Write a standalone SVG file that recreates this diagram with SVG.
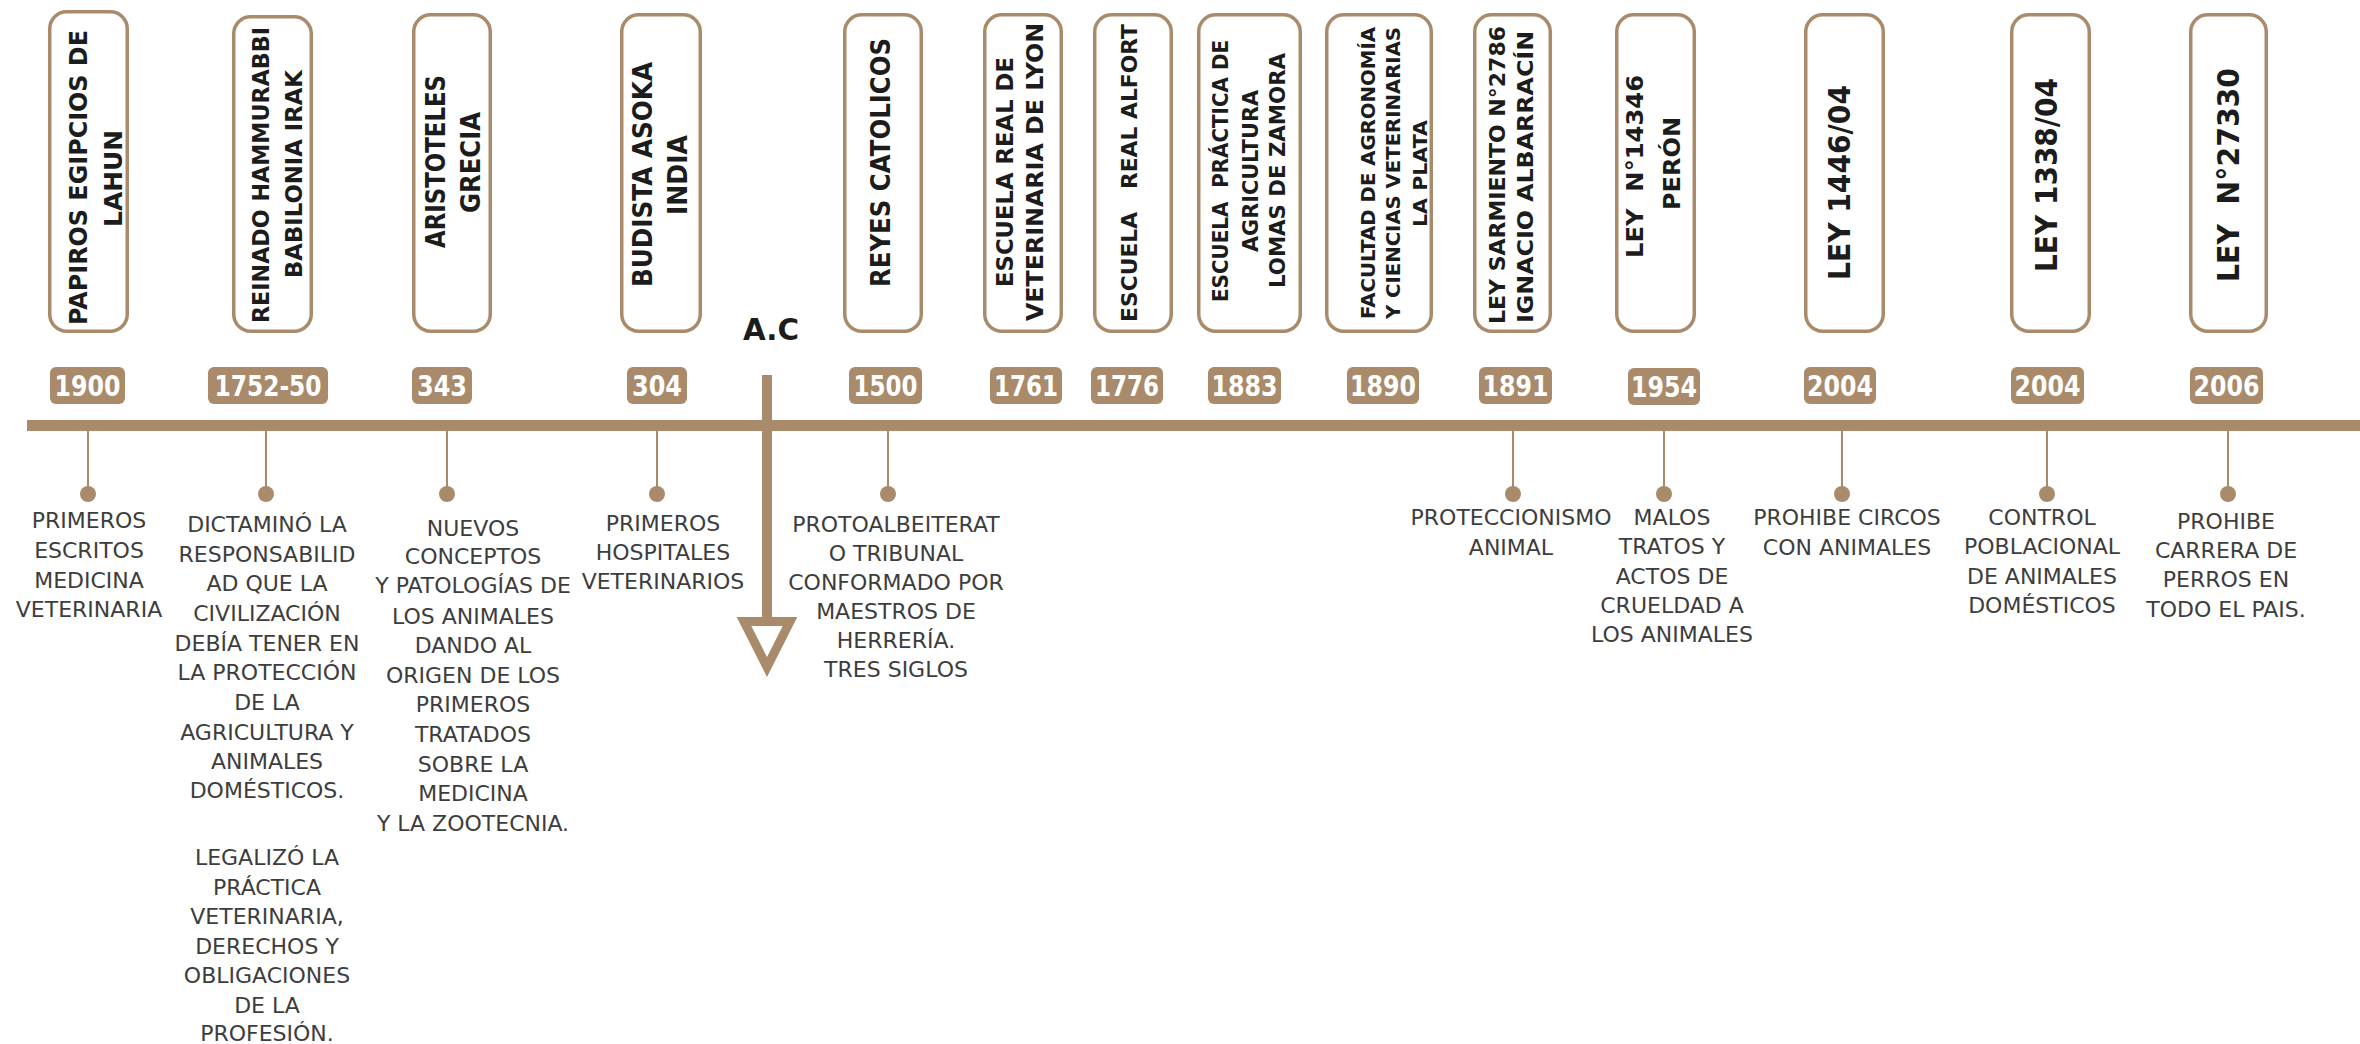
<svg xmlns="http://www.w3.org/2000/svg" width="2360" height="1044" viewBox="0 0 2360 1044">
<style>
.bg{fill:#ffffff}
.box{fill:#ffffff;stroke:#A98B6B;stroke-width:3.5}
.badge{fill:#A98B6B}
.bt{font-family:"DejaVu Sans","Liberation Sans",sans-serif;font-weight:bold;font-size:28px;fill:#ffffff;text-anchor:middle}
.tt{font-family:"DejaVu Sans","Liberation Sans",sans-serif;font-weight:bold;fill:#1c1c1c;text-anchor:middle}
.dt{font-family:"DejaVu Sans","Liberation Sans",sans-serif;font-size:22px;fill:#3d3d3d;text-anchor:middle}
.tick{stroke:#A98B6B;stroke-width:2;fill:none}
.dot{fill:#A98B6B}
</style>
<rect class="bg" x="0" y="0" width="2360" height="1044"/>

<g id="connectors">
  <rect x="27" y="420" width="2333" height="11" fill="#A98B6B"/>
  <line x1="767" y1="375" x2="767" y2="622" stroke="#A98B6B" stroke-width="10"/>
  <polygon points="744,621.5 790,621.5 767,667" fill="#ffffff" stroke="#A98B6B" stroke-width="9"/>
  <text x="743" y="340" font-family="DejaVu Sans, Liberation Sans, sans-serif" font-weight="bold" font-size="30" fill="#1c1c1c" textLength="56" lengthAdjust="spacingAndGlyphs">A.C</text>
  <line class="tick" x1="88" y1="431" x2="88" y2="494"/>
  <line class="tick" x1="266" y1="431" x2="266" y2="494"/>
  <line class="tick" x1="447" y1="431" x2="447" y2="494"/>
  <line class="tick" x1="657" y1="431" x2="657" y2="494"/>
  <line class="tick" x1="888" y1="431" x2="888" y2="494"/>
  <line class="tick" x1="1513" y1="431" x2="1513" y2="494"/>
  <line class="tick" x1="1664" y1="431" x2="1664" y2="494"/>
  <line class="tick" x1="1842" y1="431" x2="1842" y2="494"/>
  <line class="tick" x1="2047" y1="431" x2="2047" y2="494"/>
  <line class="tick" x1="2228" y1="431" x2="2228" y2="494"/>
</g>

<g id="n1900">
  <rect class="box" x="49.75" y="11.75" width="77.5" height="319.5" rx="17"/>
  <text class="tt" font-size="24" transform="translate(87,177.5) rotate(-90)" textLength="295" lengthAdjust="spacingAndGlyphs">PAPIROS EGIPCIOS DE</text>
  <text class="tt" font-size="24" transform="translate(122,178.5) rotate(-90)" textLength="97" lengthAdjust="spacingAndGlyphs">LAHUN</text>
  <rect class="badge" x="50" y="367" width="75" height="37" rx="6"/>
  <text class="bt" x="87.5" y="396" textLength="66" lengthAdjust="spacingAndGlyphs">1900</text>
  <circle class="dot" cx="88" cy="494" r="8"/>
  <text class="dt"><tspan x="89" y="528">PRIMEROS</tspan><tspan x="89" y="558">ESCRITOS</tspan><tspan x="89" y="588">MEDICINA</tspan><tspan x="89" y="617">VETERINARIA</tspan></text>
</g>

<g id="n1752">
  <rect class="box" x="233.75" y="16.75" width="77.5" height="314.5" rx="17"/>
  <text class="tt" font-size="23" transform="translate(269,175) rotate(-90)" textLength="296" lengthAdjust="spacingAndGlyphs">REINADO HAMMURABBI</text>
  <text class="tt" font-size="23" transform="translate(302,174) rotate(-90)" textLength="208" lengthAdjust="spacingAndGlyphs">BABILONIA IRAK</text>
  <rect class="badge" x="208" y="367" width="120" height="37" rx="6"/>
  <text class="bt" x="268" y="396" textLength="107" lengthAdjust="spacingAndGlyphs">1752-50</text>
  <circle class="dot" cx="266" cy="494" r="8"/>
  <text class="dt"><tspan x="267" y="532">DICTAMINÓ LA</tspan><tspan x="267" y="562">RESPONSABILID</tspan><tspan x="267" y="591">AD QUE LA</tspan><tspan x="267" y="621">CIVILIZACIÓN</tspan><tspan x="267" y="651">DEBÍA TENER EN</tspan><tspan x="267" y="680">LA PROTECCIÓN</tspan><tspan x="267" y="710">DE LA</tspan><tspan x="267" y="740">AGRICULTURA Y</tspan><tspan x="267" y="769">ANIMALES</tspan><tspan x="267" y="798">DOMÉSTICOS.</tspan><tspan x="267" y="865">LEGALIZÓ LA</tspan><tspan x="267" y="895">PRÁCTICA</tspan><tspan x="267" y="924">VETERINARIA,</tspan><tspan x="267" y="954">DERECHOS Y</tspan><tspan x="267" y="983">OBLIGACIONES</tspan><tspan x="267" y="1013">DE LA</tspan><tspan x="267" y="1041">PROFESIÓN.</tspan></text>
</g>

<g id="n343">
  <rect class="box" x="413.75" y="14.75" width="76.5" height="316.5" rx="17"/>
  <text class="tt" font-size="26" transform="translate(445,161.5) rotate(-90)" textLength="173" lengthAdjust="spacingAndGlyphs">ARISTOTELES</text>
  <text class="tt" font-size="26" transform="translate(480,162.5) rotate(-90)" textLength="101" lengthAdjust="spacingAndGlyphs">GRECIA</text>
  <rect class="badge" x="412" y="367" width="60" height="37" rx="6"/>
  <text class="bt" x="442" y="396" textLength="50" lengthAdjust="spacingAndGlyphs">343</text>
  <circle class="dot" cx="447" cy="494" r="8"/>
  <text class="dt"><tspan x="473" y="536">NUEVOS</tspan><tspan x="473" y="564">CONCEPTOS</tspan><tspan x="473" y="593">Y PATOLOGÍAS DE</tspan><tspan x="473" y="624">LOS ANIMALES</tspan><tspan x="473" y="653">DANDO AL</tspan><tspan x="473" y="683">ORIGEN DE LOS</tspan><tspan x="473" y="712">PRIMEROS</tspan><tspan x="473" y="742">TRATADOS</tspan><tspan x="473" y="772">SOBRE LA</tspan><tspan x="473" y="801">MEDICINA</tspan><tspan x="473" y="831">Y LA ZOOTECNIA.</tspan></text>
</g>

<g id="n304">
  <rect class="box" x="621.75" y="14.75" width="78.5" height="316.5" rx="17"/>
  <text class="tt" font-size="26" transform="translate(652,174.5) rotate(-90)" textLength="225" lengthAdjust="spacingAndGlyphs">BUDISTA ASOKA</text>
  <text class="tt" font-size="26" transform="translate(687,175) rotate(-90)" textLength="80" lengthAdjust="spacingAndGlyphs">INDIA</text>
  <rect class="badge" x="627" y="367" width="60" height="37" rx="6"/>
  <text class="bt" x="657" y="396" textLength="50" lengthAdjust="spacingAndGlyphs">304</text>
  <circle class="dot" cx="657" cy="494" r="8"/>
  <text class="dt"><tspan x="663" y="531">PRIMEROS</tspan><tspan x="663" y="560">HOSPITALES</tspan><tspan x="663" y="589">VETERINARIOS</tspan></text>
</g>

<g id="n1500">
  <rect class="box" x="844.75" y="14.75" width="76.5" height="316.5" rx="17"/>
  <text class="tt" font-size="26" transform="translate(890,162.5) rotate(-90)" textLength="249" lengthAdjust="spacingAndGlyphs">REYES CATOLICOS</text>
  <rect class="badge" x="849" y="367" width="73" height="37" rx="6"/>
  <text class="bt" x="885.5" y="396" textLength="64" lengthAdjust="spacingAndGlyphs">1500</text>
  <circle class="dot" cx="888" cy="494" r="8"/>
  <text class="dt"><tspan x="896" y="532">PROTOALBEITERAT</tspan><tspan x="896" y="561">O TRIBUNAL</tspan><tspan x="896" y="590">CONFORMADO POR</tspan><tspan x="896" y="619">MAESTROS DE</tspan><tspan x="896" y="648">HERRERÍA.</tspan><tspan x="896" y="677">TRES SIGLOS</tspan></text>
</g>

<g id="n1761">
  <rect class="box" x="984.75" y="14.75" width="76.5" height="316.5" rx="17"/>
  <text class="tt" font-size="23" transform="translate(1013,172) rotate(-90)" textLength="230" lengthAdjust="spacingAndGlyphs">ESCUELA REAL DE</text>
  <text class="tt" font-size="23" transform="translate(1043,172) rotate(-90)" textLength="298" lengthAdjust="spacingAndGlyphs">VETERINARIA DE LYON</text>
  <rect class="badge" x="990" y="367" width="72" height="37" rx="6"/>
  <text class="bt" x="1026" y="396" textLength="64" lengthAdjust="spacingAndGlyphs">1761</text>
</g>

<g id="n1776">
  <rect class="box" x="1094.75" y="14.75" width="76.5" height="316.5" rx="17"/>
  <text class="tt" font-size="22" transform="translate(1137,173) rotate(-90)" textLength="298" lengthAdjust="spacingAndGlyphs" xml:space="preserve">ESCUELA   REAL ALFORT</text>
  <rect class="badge" x="1091" y="367" width="72" height="37" rx="6"/>
  <text class="bt" x="1127" y="396" textLength="64" lengthAdjust="spacingAndGlyphs">1776</text>
</g>

<g id="n1883">
  <rect class="box" x="1198.75" y="14.75" width="101.5" height="316.5" rx="17"/>
  <text class="tt" font-size="21" transform="translate(1228,171) rotate(-90)" textLength="262" lengthAdjust="spacingAndGlyphs" xml:space="preserve">ESCUELA  PRÁCTICA DE</text>
  <text class="tt" font-size="21" transform="translate(1258,171) rotate(-90)" textLength="162" lengthAdjust="spacingAndGlyphs">AGRICULTURA</text>
  <text class="tt" font-size="21" transform="translate(1285,170.5) rotate(-90)" textLength="235" lengthAdjust="spacingAndGlyphs">LOMAS DE ZAMORA</text>
  <rect class="badge" x="1208" y="367" width="73" height="37" rx="6"/>
  <text class="bt" x="1244.5" y="396" textLength="66" lengthAdjust="spacingAndGlyphs">1883</text>
</g>

<g id="n1890">
  <rect class="box" x="1326.75" y="14.75" width="104.5" height="316.5" rx="17"/>
  <text class="tt" font-size="19.5" transform="translate(1375,173) rotate(-90)" textLength="292" lengthAdjust="spacingAndGlyphs">FACULTAD DE AGRONOMÍA</text>
  <text class="tt" font-size="19.5" transform="translate(1400,173) rotate(-90)" textLength="292" lengthAdjust="spacingAndGlyphs">Y CIENCIAS VETERINARIAS</text>
  <text class="tt" font-size="19.5" transform="translate(1427,173.5) rotate(-90)" textLength="107" lengthAdjust="spacingAndGlyphs">LA PLATA</text>
  <rect class="badge" x="1347" y="367" width="72" height="37" rx="6"/>
  <text class="bt" x="1383" y="396" textLength="66" lengthAdjust="spacingAndGlyphs">1890</text>
</g>

<g id="n1891">
  <rect class="box" x="1474.75" y="14.75" width="75.5" height="316.5" rx="17"/>
  <text class="tt" font-size="22" transform="translate(1505,175) rotate(-90)" textLength="298" lengthAdjust="spacingAndGlyphs">LEY SARMIENTO N°2786</text>
  <text class="tt" font-size="22" transform="translate(1533,177) rotate(-90)" textLength="292" lengthAdjust="spacingAndGlyphs">IGNACIO ALBARRACÍN</text>
  <rect class="badge" x="1479" y="367" width="73" height="37" rx="6"/>
  <text class="bt" x="1515.5" y="396" textLength="66" lengthAdjust="spacingAndGlyphs">1891</text>
  <circle class="dot" cx="1513" cy="494" r="8"/>
  <text class="dt"><tspan x="1511" y="525">PROTECCIONISMO</tspan><tspan x="1511" y="555">ANIMAL</tspan></text>
</g>

<g id="n1954">
  <rect class="box" x="1616.75" y="14.75" width="77.5" height="316.5" rx="17"/>
  <text class="tt" font-size="23" transform="translate(1643,166.5) rotate(-90)" textLength="183" lengthAdjust="spacingAndGlyphs" xml:space="preserve">LEY  N°14346</text>
  <text class="tt" font-size="23" transform="translate(1680,163.5) rotate(-90)" textLength="93" lengthAdjust="spacingAndGlyphs">PERÓN</text>
  <rect class="badge" x="1628" y="368" width="72" height="37" rx="6"/>
  <text class="bt" x="1664" y="397" textLength="66" lengthAdjust="spacingAndGlyphs">1954</text>
  <circle class="dot" cx="1664" cy="494" r="8"/>
  <text class="dt"><tspan x="1672" y="525">MALOS</tspan><tspan x="1672" y="554">TRATOS Y</tspan><tspan x="1672" y="584">ACTOS DE</tspan><tspan x="1672" y="613">CRUELDAD A</tspan><tspan x="1672" y="642">LOS ANIMALES</tspan></text>
</g>

<g id="n2004a">
  <rect class="box" x="1805.75" y="14.75" width="77.5" height="316.5" rx="17"/>
  <text class="tt" font-size="31" transform="translate(1850,182.5) rotate(-90)" textLength="195" lengthAdjust="spacingAndGlyphs">LEY 1446/04</text>
  <rect class="badge" x="1804" y="367" width="72" height="37" rx="6"/>
  <text class="bt" x="1840" y="396" textLength="66" lengthAdjust="spacingAndGlyphs">2004</text>
  <circle class="dot" cx="1842" cy="494" r="8"/>
  <text class="dt"><tspan x="1847" y="525">PROHIBE CIRCOS</tspan><tspan x="1847" y="555">CON ANIMALES</tspan></text>
</g>

<g id="n2004b">
  <rect class="box" x="2011.75" y="14.75" width="77.5" height="316.5" rx="17"/>
  <text class="tt" font-size="31" transform="translate(2057,175) rotate(-90)" textLength="194" lengthAdjust="spacingAndGlyphs">LEY 1338/04</text>
  <rect class="badge" x="2011" y="367" width="73" height="37" rx="6"/>
  <text class="bt" x="2047.5" y="396" textLength="66" lengthAdjust="spacingAndGlyphs">2004</text>
  <circle class="dot" cx="2047" cy="494" r="8"/>
  <text class="dt"><tspan x="2042" y="525">CONTROL</tspan><tspan x="2042" y="554">POBLACIONAL</tspan><tspan x="2042" y="584">DE ANIMALES</tspan><tspan x="2042" y="613">DOMÉSTICOS</tspan></text>
</g>

<g id="n2006">
  <rect class="box" x="2190.75" y="14.75" width="75.5" height="316.5" rx="17"/>
  <text class="tt" font-size="31" transform="translate(2239,175) rotate(-90)" textLength="214" lengthAdjust="spacingAndGlyphs" xml:space="preserve">LEY  N°27330</text>
  <rect class="badge" x="2190" y="367" width="73" height="37" rx="6"/>
  <text class="bt" x="2226.5" y="396" textLength="66" lengthAdjust="spacingAndGlyphs">2006</text>
  <circle class="dot" cx="2228" cy="494" r="8"/>
  <text class="dt"><tspan x="2226" y="529">PROHIBE</tspan><tspan x="2226" y="558">CARRERA DE</tspan><tspan x="2226" y="587">PERROS EN</tspan><tspan x="2226" y="617">TODO EL PAIS.</tspan></text>
</g>
</svg>
